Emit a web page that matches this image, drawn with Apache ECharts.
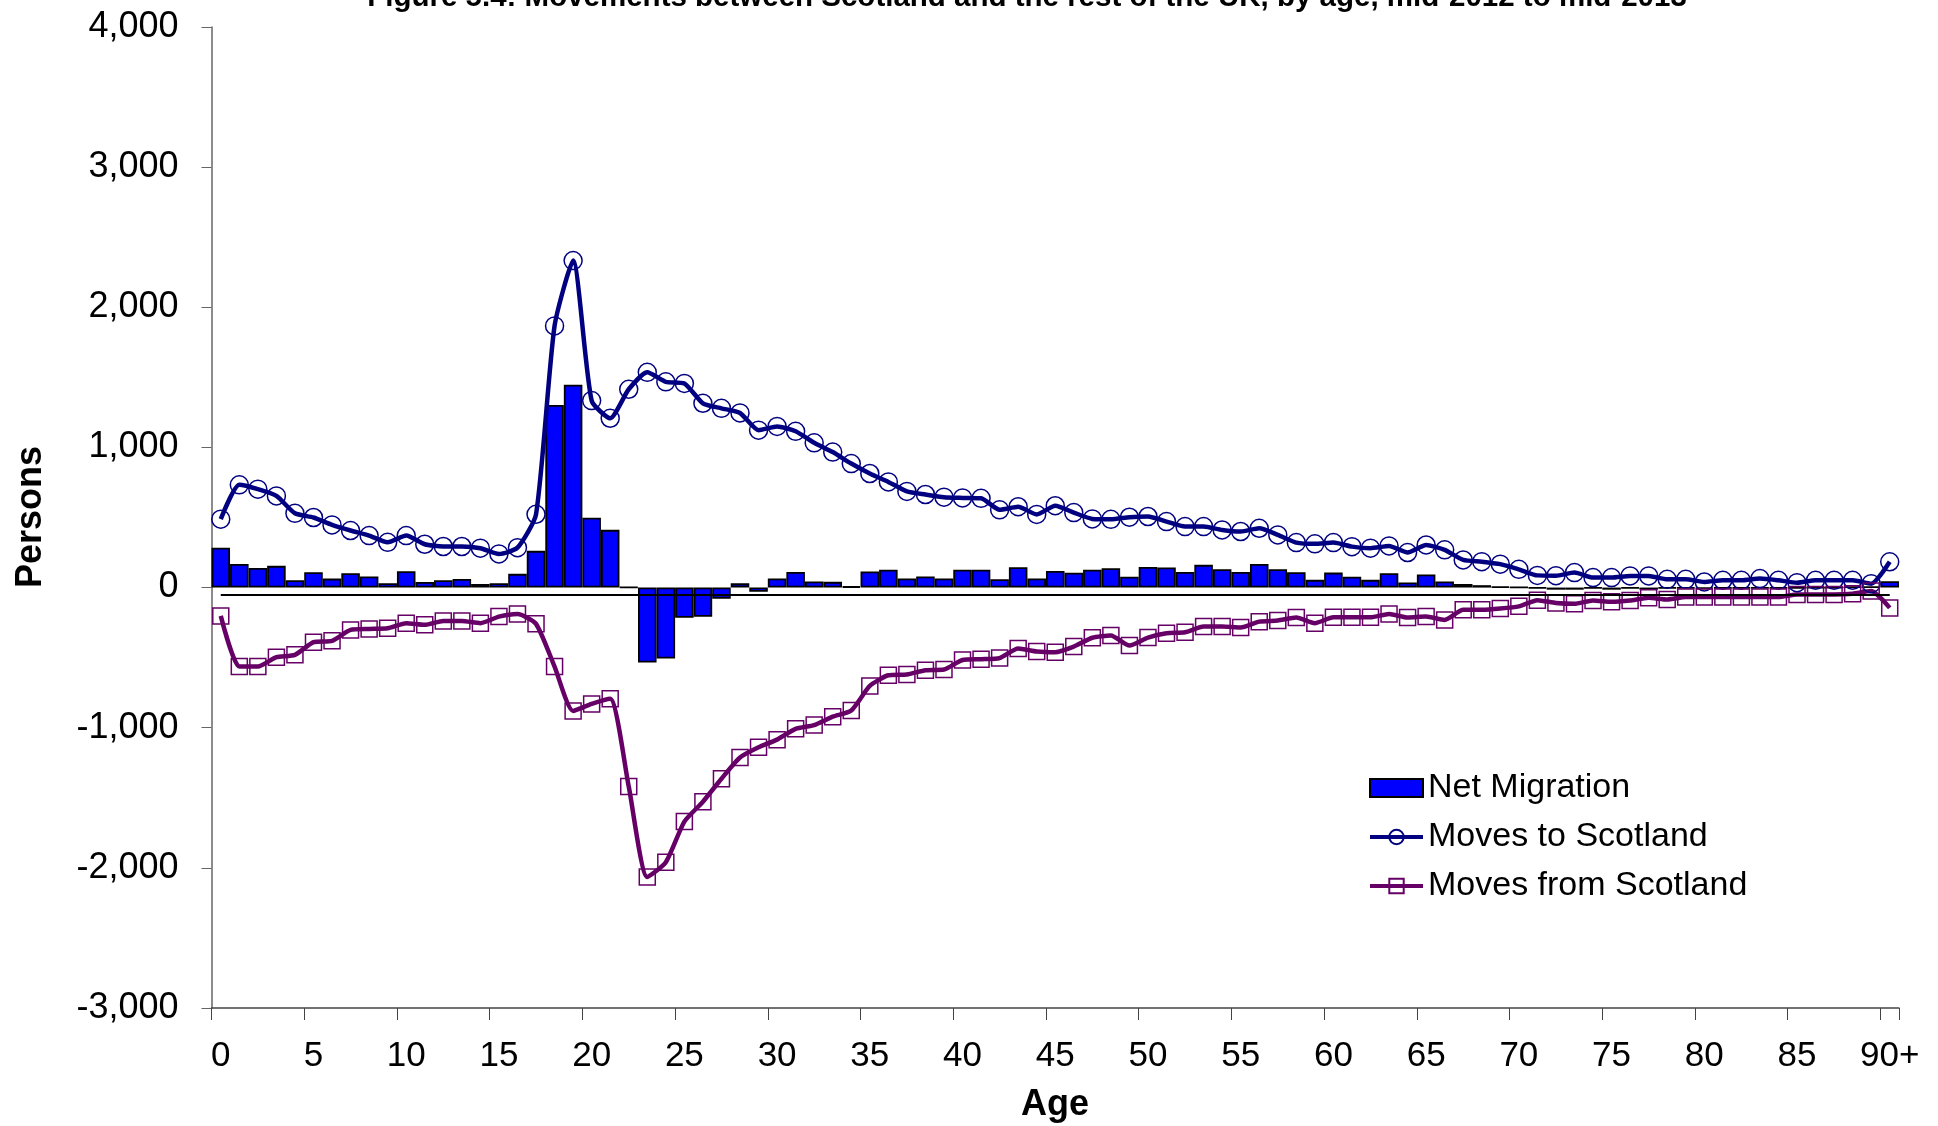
<!DOCTYPE html>
<html><head><meta charset="utf-8">
<script src="https://cdn.jsdelivr.net/npm/echarts@6/dist/echarts.min.js"></script>
<style>html,body{margin:0;padding:0;background:#fff}#c{width:1938px;height:1126px}</style>
</head><body><div id="c"></div>
<script>
const ages = ['0','1','2','3','4','5','6','7','8','9','10','11','12','13','14','15','16','17','18','19',
 '20','21','22','23','24','25','26','27','28','29','30','31','32','33','34','35','36','37','38','39',
 '40','41','42','43','44','45','46','47','48','49','50','51','52','53','54','55','56','57','58','59',
 '60','61','62','63','64','65','66','67','68','69','70','71','72','73','74','75','76','77','78','79',
 '80','81','82','83','84','85','86','87','88','89','90+'];

const netMigration = [285,169,140,155,52,109,64,102,79,31,117,40,52,62,26,31,98,262,1303,1448,
 499,412,3,-535,-506,-215,-209,-79,30,-30,65,112,44,41,8,115,128,65,79,65,
 128,128,60,145,65,118,106,127,138,78,147,143,112,162,131,112,169,131,109,55,
 107,78,55,102,36,93,43,26,17,7,2,-5,-15,-15,-5,-15,-5,-15,-5,-5,
 -10,-5,-5,-5,-5,-5,0,0,5,5,45];

const movesToScotland = [488,733,702,654,530,500,447,407,371,323,371,309,293,293,281,240,285,523,1867,2333,
 1334,1208,1415,1536,1468,1457,1315,1279,1246,1123,1150,1115,1033,967,885,814,754,686,664,645,
 640,637,555,577,522,584,535,490,487,502,507,471,435,435,411,400,423,376,321,312,
 321,292,281,297,250,304,269,197,185,167,130,87,85,107,71,71,83,83,59,59,
 40,52,52,64,52,35,52,52,52,28,184];

const movesFromScotland = [-202,-564,-564,-497,-480,-390,-380,-302,-295,-290,-254,-266,-238,-238,-254,-207,-188,-259,-564,-880,
 -830,-793,-1420,-2065,-1960,-1670,-1528,-1364,-1213,-1140,-1085,-1008,-981,-921,-877,-702,-626,-620,-590,-585,
 -517,-511,-503,-435,-456,-461,-421,-358,-342,-414,-357,-326,-319,-278,-278,-285,-243,-235,-214,-254,
 -212,-212,-212,-188,-214,-207,-231,-159,-159,-150,-134,-90,-110,-116,-92,-102,-92,-73,-85,-68,
 -68,-68,-68,-68,-68,-49,-49,-49,-44,-25,-145];

const referenceLineValue = -50;
const yMin = -3000, yMax = 4000, yStep = 1000;

const FONT = '"Liberation Sans", Arial, sans-serif';
const chart = echarts.init(document.getElementById('c'), null, {renderer:'canvas'});
chart.setOption({
  animation: false,
  backgroundColor: '#fff',
  textStyle: {fontFamily: FONT},
  grid: {left: 211.5, right: 39, top: 27, bottom: 118, containLabel: false},
  graphic: [
    {type:'text', x:1027, y:-2, style:{text:'Figure 5.4: Movements between Scotland and the rest of the UK, by age, mid-2012 to mid-2013',
      font:'bold 29.5px ' + FONT, fill:'#000', textAlign:'center', textVerticalAlign:'middle'}},
    {type:'text', x:31, y:517, rotation: Math.PI/2, style:{text:'Persons', font:'bold 36px ' + FONT, fill:'#000', textAlign:'center', textVerticalAlign:'middle'}},
    {type:'text', x:1055, y:1105, style:{text:'Age', font:'bold 36px ' + FONT, fill:'#000', textAlign:'center', textVerticalAlign:'middle'}}
  ],
  legend: {
    orient:'vertical', left:1363, top:766, itemWidth:53, itemHeight:18, itemGap:15,
    textStyle:{fontSize:34, color:'#000', fontFamily:FONT},
    lineStyle:{width:4},
    data:[{name:'Net Migration', icon:'rect'}, 'Moves to Scotland', 'Moves from Scotland']
  },
  xAxis: {
    type:'category', data: ages, boundaryGap: true,
    axisLine:{onZero:false, lineStyle:{color:'#444', width:1.5}},
    axisTick:{show:true, interval:(i)=> i % 5 === 0, length:12, lineStyle:{color:'#444', width:1}},
    axisLabel:{interval:(i)=> i % 5 === 0, fontSize:35, color:'#000', margin:31, fontFamily:FONT},
    splitLine:{show:false}
  },
  yAxis: {
    type:'value', min:yMin, max:yMax, interval:yStep,
    splitLine:{show:false},
    axisLine:{show:true, onZero:false, lineStyle:{color:'#666', width:1.5}},
    axisTick:{show:true, length:10, lineStyle:{color:'#666', width:1}},
    axisLabel:{fontSize:36, color:'#000', margin:33, fontFamily:FONT, formatter:(v)=> v.toLocaleString('en-US')}
  },
  series: [
    {name:'Net Migration', type:'bar', data: netMigration, barCategoryGap:'0%',
     itemStyle:{color:'#0000FF', borderColor:'#000', borderWidth:1.8},
     markLine:{silent:true, symbol:'none', label:{show:false}, lineStyle:{color:'#000', width:2, type:'solid'},
       data:[[{coord:[ages[0], referenceLineValue]}, {coord:[ages[ages.length-1], referenceLineValue]}]]}},
    {name:'Moves to Scotland', type:'line', data: movesToScotland, symbol:'circle', symbolSize:18, showAllSymbol:true, smooth:0.2,
     lineStyle:{color:'#000080', width:4.5}, itemStyle:{color:'rgba(255,255,255,0)', borderColor:'#000080', borderWidth:1.5}},
    {name:'Moves from Scotland', type:'line', data: movesFromScotland, symbol:'rect', symbolSize:16, showAllSymbol:true, smooth:0.2,
     lineStyle:{color:'#660066', width:4.5}, itemStyle:{color:'rgba(255,255,255,0)', borderColor:'#660066', borderWidth:1.5}}
  ]
});
</script>
</body></html>
